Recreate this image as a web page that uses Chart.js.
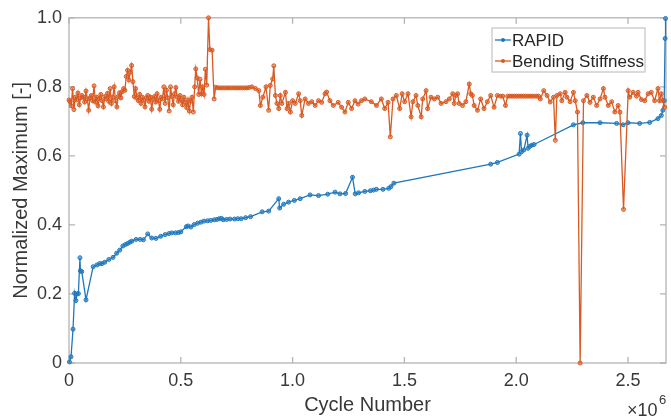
<!DOCTYPE html>
<html>
<head>
<meta charset="utf-8">
<style>
  html, body { margin: 0; padding: 0; background: #fff; }
  #wrap { width: 671px; height: 417px; }
</style>
</head>
<body>
<div id="wrap"><canvas id="myChart" width="671" height="417"></canvas></div>
<script src="https://cdn.jsdelivr.net/npm/chart.js@4.4.0/dist/chart.umd.min.js"></script>
<script>

// cycle numbers are in units of 10^6
const rapidCycles = [
  0.002, 0.009, 0.018, 0.025, 0.031, 0.036, 0.042, 0.049, 0.051, 0.057,
  0.076, 0.108, 0.125, 0.137, 0.148, 0.160, 0.178, 0.197, 0.213, 0.227,
  0.241, 0.252, 0.262, 0.272, 0.281, 0.300, 0.318, 0.333, 0.352, 0.370,
  0.389, 0.410, 0.430, 0.447, 0.460, 0.476, 0.490, 0.500, 0.525, 0.532,
  0.545, 0.560, 0.575, 0.590, 0.604, 0.620, 0.634, 0.650, 0.662, 0.672,
  0.682, 0.690, 0.705, 0.720, 0.740, 0.755, 0.770, 0.790, 0.812, 0.864,
  0.893, 0.938, 0.942, 0.960, 0.982, 1.008, 1.034, 1.078, 1.116, 1.157,
  1.190, 1.212, 1.237, 1.268, 1.280, 1.295, 1.323, 1.348, 1.362, 1.375,
  1.404, 1.430, 1.440, 1.453, 1.886, 1.916, 2.013, 2.019, 2.024, 2.034,
  2.049, 2.053, 2.062, 2.070, 2.080, 2.256, 2.298, 2.375, 2.449, 2.478,
  2.500, 2.552, 2.597, 2.634, 2.649, 2.656, 2.662, 2.666, 2.668
];
const rapidValues = [
  0.003, 0.018, 0.098, 0.202, 0.181, 0.200, 0.201, 0.305, 0.267, 0.265,
  0.183, 0.279, 0.284, 0.288, 0.288, 0.292, 0.300, 0.306, 0.318, 0.327,
  0.339, 0.343, 0.346, 0.350, 0.353, 0.358, 0.358, 0.357, 0.374, 0.362,
  0.361, 0.367, 0.372, 0.375, 0.377, 0.377, 0.378, 0.380, 0.395, 0.397,
  0.394, 0.401, 0.405, 0.408, 0.411, 0.412, 0.413, 0.415, 0.416, 0.418,
  0.419, 0.415, 0.416, 0.417, 0.417, 0.418, 0.418, 0.421, 0.424, 0.438,
  0.440, 0.476, 0.449, 0.460, 0.466, 0.471, 0.476, 0.487, 0.485, 0.489,
  0.495, 0.490, 0.491, 0.538, 0.490, 0.493, 0.497, 0.499, 0.501, 0.503,
  0.503, 0.506, 0.511, 0.521, 0.576, 0.581, 0.605, 0.665, 0.612, 0.617,
  0.660, 0.622, 0.628, 0.631, 0.633, 0.690, 0.696, 0.696, 0.694, 0.690,
  0.696, 0.694, 0.697, 0.708, 0.717, 0.732, 0.760, 0.940, 0.998
];

const stiffCycles = [
  0.000, 0.004, 0.010, 0.016, 0.022, 0.028, 0.034, 0.040, 0.046, 0.052,
  0.058, 0.064, 0.070, 0.076, 0.082, 0.088, 0.094, 0.100, 0.106, 0.112,
  0.118, 0.124, 0.130, 0.136, 0.142, 0.148, 0.154, 0.160, 0.166, 0.172,
  0.178, 0.184, 0.190, 0.196, 0.202, 0.208, 0.214, 0.220, 0.226, 0.232,
  0.238, 0.244, 0.250, 0.256, 0.262, 0.268, 0.274, 0.280, 0.286, 0.292,
  0.298, 0.304, 0.310, 0.316, 0.322, 0.328, 0.334, 0.340, 0.346, 0.352,
  0.358, 0.364, 0.370, 0.376, 0.382, 0.388, 0.394, 0.400, 0.406, 0.412,
  0.418, 0.424, 0.430, 0.436, 0.442, 0.448, 0.454, 0.460, 0.466, 0.472,
  0.478, 0.484, 0.490, 0.496, 0.502, 0.508, 0.514, 0.520, 0.526, 0.532,
  0.538, 0.544, 0.550, 0.556, 0.562, 0.567, 0.573, 0.580, 0.586, 0.592,
  0.598, 0.604, 0.610, 0.616, 0.624, 0.630, 0.640, 0.649, 0.656, 0.666,
  0.676, 0.686, 0.696, 0.706, 0.716, 0.726, 0.736, 0.746, 0.756, 0.766,
  0.776, 0.786, 0.796, 0.806, 0.818, 0.834, 0.849, 0.856, 0.867, 0.881,
  0.893, 0.900, 0.911, 0.916, 0.923, 0.930, 0.938, 0.945, 0.952, 0.968,
  0.975, 0.982, 0.990, 1.000, 1.012, 1.027, 1.034, 1.041, 1.056, 1.071,
  1.086, 1.101, 1.116, 1.130, 1.145, 1.152, 1.167, 1.182, 1.204, 1.219,
  1.234, 1.249, 1.264, 1.279, 1.293, 1.308, 1.323, 1.352, 1.375, 1.397,
  1.412, 1.427, 1.437, 1.449, 1.464, 1.479, 1.490, 1.501, 1.516, 1.530,
  1.538, 1.552, 1.560, 1.575, 1.582, 1.597, 1.604, 1.619, 1.634, 1.649,
  1.664, 1.686, 1.701, 1.716, 1.723, 1.730, 1.738, 1.745, 1.760, 1.775,
  1.790, 1.797, 1.804, 1.812, 1.827, 1.841, 1.856, 1.871, 1.886, 1.901,
  1.916, 1.930, 1.940, 1.952, 1.962, 1.972, 1.982, 1.992, 2.002, 2.012,
  2.022, 2.032, 2.042, 2.052, 2.062, 2.072, 2.082, 2.092, 2.100, 2.108,
  2.123, 2.138, 2.152, 2.167, 2.175, 2.182, 2.197, 2.204, 2.219, 2.227,
  2.241, 2.256, 2.264, 2.274, 2.286, 2.301, 2.316, 2.330, 2.345, 2.360,
  2.375, 2.390, 2.397, 2.412, 2.427, 2.441, 2.456, 2.464, 2.480, 2.501,
  2.508, 2.523, 2.538, 2.545, 2.560, 2.575, 2.590, 2.604, 2.619, 2.634,
  2.641, 2.649, 2.656, 2.664
];
const stiffValues = [
  0.762, 0.757, 0.745, 0.795, 0.734, 0.770, 0.762, 0.782, 0.748, 0.768,
  0.775, 0.770, 0.756, 0.788, 0.765, 0.732, 0.768, 0.775, 0.760, 0.803,
  0.756, 0.770, 0.745, 0.766, 0.778, 0.760, 0.742, 0.772, 0.765, 0.781,
  0.758, 0.795, 0.752, 0.770, 0.800, 0.760, 0.742, 0.772, 0.783, 0.768,
  0.786, 0.795, 0.790, 0.830, 0.848, 0.820, 0.842, 0.862, 0.815, 0.772,
  0.795, 0.768, 0.760, 0.778, 0.752, 0.770, 0.762, 0.742, 0.768, 0.775,
  0.758, 0.770, 0.735, 0.765, 0.772, 0.756, 0.780, 0.760, 0.735, 0.770,
  0.765, 0.800, 0.752, 0.790, 0.768, 0.730, 0.800, 0.772, 0.748, 0.780,
  0.798, 0.770, 0.758, 0.775, 0.762, 0.748, 0.770, 0.755, 0.740, 0.762,
  0.730, 0.758, 0.770, 0.727, 0.800, 0.852, 0.826, 0.778, 0.822, 0.780,
  0.800, 0.778, 0.851, 0.805, 1.000, 0.908, 0.906, 0.765, 0.799, 0.797,
  0.797, 0.797, 0.797, 0.797, 0.797, 0.797, 0.797, 0.797, 0.797, 0.797,
  0.797, 0.797, 0.797, 0.798, 0.800, 0.795, 0.789, 0.746, 0.770, 0.800,
  0.732, 0.804, 0.823, 0.861, 0.775, 0.752, 0.737, 0.775, 0.752, 0.784,
  0.737, 0.752, 0.727, 0.760, 0.752, 0.780, 0.760, 0.717, 0.765, 0.752,
  0.757, 0.746, 0.760, 0.755, 0.780, 0.785, 0.760, 0.746, 0.755, 0.741,
  0.727, 0.755, 0.737, 0.760, 0.750, 0.760, 0.765, 0.757, 0.746, 0.765,
  0.737, 0.755, 0.655, 0.765, 0.775, 0.737, 0.780, 0.757, 0.780, 0.713,
  0.757, 0.775, 0.746, 0.713, 0.765, 0.789, 0.737, 0.770, 0.765, 0.770,
  0.752, 0.757, 0.765, 0.780, 0.752, 0.775, 0.780, 0.752, 0.746, 0.757,
  0.808, 0.780, 0.775, 0.746, 0.732, 0.765, 0.737, 0.757, 0.775, 0.741,
  0.775, 0.773, 0.773, 0.746, 0.773, 0.773, 0.773, 0.773, 0.773, 0.773,
  0.773, 0.773, 0.773, 0.773, 0.773, 0.773, 0.773, 0.773, 0.773, 0.765,
  0.789, 0.775, 0.756, 0.770, 0.645, 0.775, 0.780, 0.760, 0.784, 0.770,
  0.757, 0.784, 0.760, 0.727, 0.000, 0.760, 0.775, 0.755, 0.770, 0.746,
  0.765, 0.795, 0.770, 0.746, 0.757, 0.727, 0.746, 0.727, 0.445, 0.789,
  0.770, 0.784, 0.773, 0.784, 0.763, 0.760, 0.780, 0.784, 0.760, 0.795,
  0.760, 0.780, 0.760, 0.741
];

const xTickStep = 0.5;
const yTickStep = 0.2;
const seriesNames = ['RAPID', 'Bending Stiffness'];

const blue = '#1f78bd';
const orange = '#d95a22';
const axisGray = '#b4b4b4';
const textGray = '#383838';
const fontFamily = "'Liberation Sans', Arial, Helvetica, sans-serif";

function toPoints(xs, ys) {
  return xs.map((v, i) => ({ x: v, y: ys[i] }));
}

// box round the plot with MATLAB style inward ticks
const boxTicks = {
  id: 'boxTicks',
  beforeDatasetsDraw(chart) {
    const { ctx, chartArea: a, scales: { x, y } } = chart;
    ctx.save();
    ctx.strokeStyle = axisGray;
    ctx.lineWidth = 1.3;
    ctx.strokeRect(a.left, a.top, a.right - a.left, a.bottom - a.top);
    ctx.beginPath();
    x.ticks.forEach(t => {
      const px = x.getPixelForValue(t.value);
      ctx.moveTo(px, a.bottom); ctx.lineTo(px, a.bottom - 6);
      ctx.moveTo(px, a.top); ctx.lineTo(px, a.top + 6);
    });
    y.ticks.forEach(t => {
      const py = y.getPixelForValue(t.value);
      ctx.moveTo(a.left, py); ctx.lineTo(a.left + 6, py);
      ctx.moveTo(a.right, py); ctx.lineTo(a.right - 6, py);
    });
    ctx.stroke();
    ctx.restore();
  }
};

// legend box in the upper right and the x10^6 exponent
const extras = {
  id: 'extras',
  afterDraw(chart) {
    const { ctx, chartArea: a } = chart;
    ctx.save();
    const bx = 492, by = 28, bw = 153, bh = 44;
    ctx.fillStyle = '#fff';
    ctx.fillRect(bx, by, bw, bh);
    ctx.strokeStyle = '#c4c4c4';
    ctx.lineWidth = 1.2;
    ctx.strokeRect(bx, by, bw, bh);
    ctx.font = '17px ' + fontFamily;
    ctx.textBaseline = 'middle';
    chart.data.datasets.forEach((ds, i) => {
      const ly = by + 12 + i * 21;
      ctx.strokeStyle = ds.borderColor;
      ctx.lineWidth = 1.3;
      ctx.beginPath();
      ctx.moveTo(bx + 3, ly); ctx.lineTo(bx + 19, ly);
      ctx.stroke();
      ctx.fillStyle = ds.borderColor;
      ctx.beginPath();
      ctx.arc(bx + 11, ly, 2, 0, Math.PI * 2);
      ctx.fill();
      ctx.fillStyle = '#262626';
      ctx.fillText(ds.label, bx + 20, ly + 1);
    });

    ctx.fillStyle = textGray;
    ctx.font = '18px ' + fontFamily;
    ctx.textBaseline = 'alphabetic';
    ctx.fillText('\u00d710', 627, 416);
    ctx.font = '13px ' + fontFamily;
    ctx.fillText('6', 659, 404);
    ctx.restore();
  }
};

const ctx = document.getElementById('myChart');

new Chart(ctx, {
  type: 'line',
  plugins: [boxTicks, extras],
  data: {
    datasets: [
      {
        label: seriesNames[0],
        data: toPoints(rapidCycles, rapidValues),
        borderColor: blue,
        backgroundColor: 'rgba(31,120,189,0.55)',
        borderWidth: 1.3,
        pointRadius: 2,
        pointBorderWidth: 1,
        tension: 0,
        clip: 6,
        order: 1
      },
      {
        label: seriesNames[1],
        data: toPoints(stiffCycles, stiffValues),
        borderColor: orange,
        backgroundColor: 'rgba(217,90,34,0.55)',
        borderWidth: 1.3,
        pointRadius: 2,
        pointBorderWidth: 1,
        tension: 0,
        clip: 6,
        order: 0
      }
    ]
  },
  options: {
    responsive: false,
    animation: false,
    layout: { padding: { top: 15, right: 1, left: 0, bottom: 0 } },
    plugins: {
      legend: { display: false },
      tooltip: { enabled: false }
    },
    scales: {
      x: {
        type: 'linear',
        min: 0,
        max: 2.67,
        grid: { display: false, drawTicks: false },
        border: { display: false },
        ticks: {
          stepSize: xTickStep,
          includeBounds: false,
          padding: 7,
          color: textGray,
          font: { size: 18, family: fontFamily },
          maxRotation: 0
        },
        title: {
          display: true,
          text: 'Cycle Number',
          color: textGray,
          font: { size: 20, family: fontFamily },
          padding: { top: 0, bottom: 0 }
        },
        afterFit: s => { s.height = 54; }
      },
      y: {
        min: 0,
        max: 1,
        grid: { display: false, drawTicks: false },
        border: { display: false },
        ticks: {
          stepSize: yTickStep,
          padding: 7,
          color: textGray,
          font: { size: 18, family: fontFamily }
        },
        title: {
          display: true,
          text: 'Normalized Maximum [-]',
          color: textGray,
          font: { size: 20, family: fontFamily },
          padding: { top: 9, bottom: 0 }
        },
        afterFit: s => { s.width = 69; }
      }
    }
  }
});
</script>
</body>
</html>
